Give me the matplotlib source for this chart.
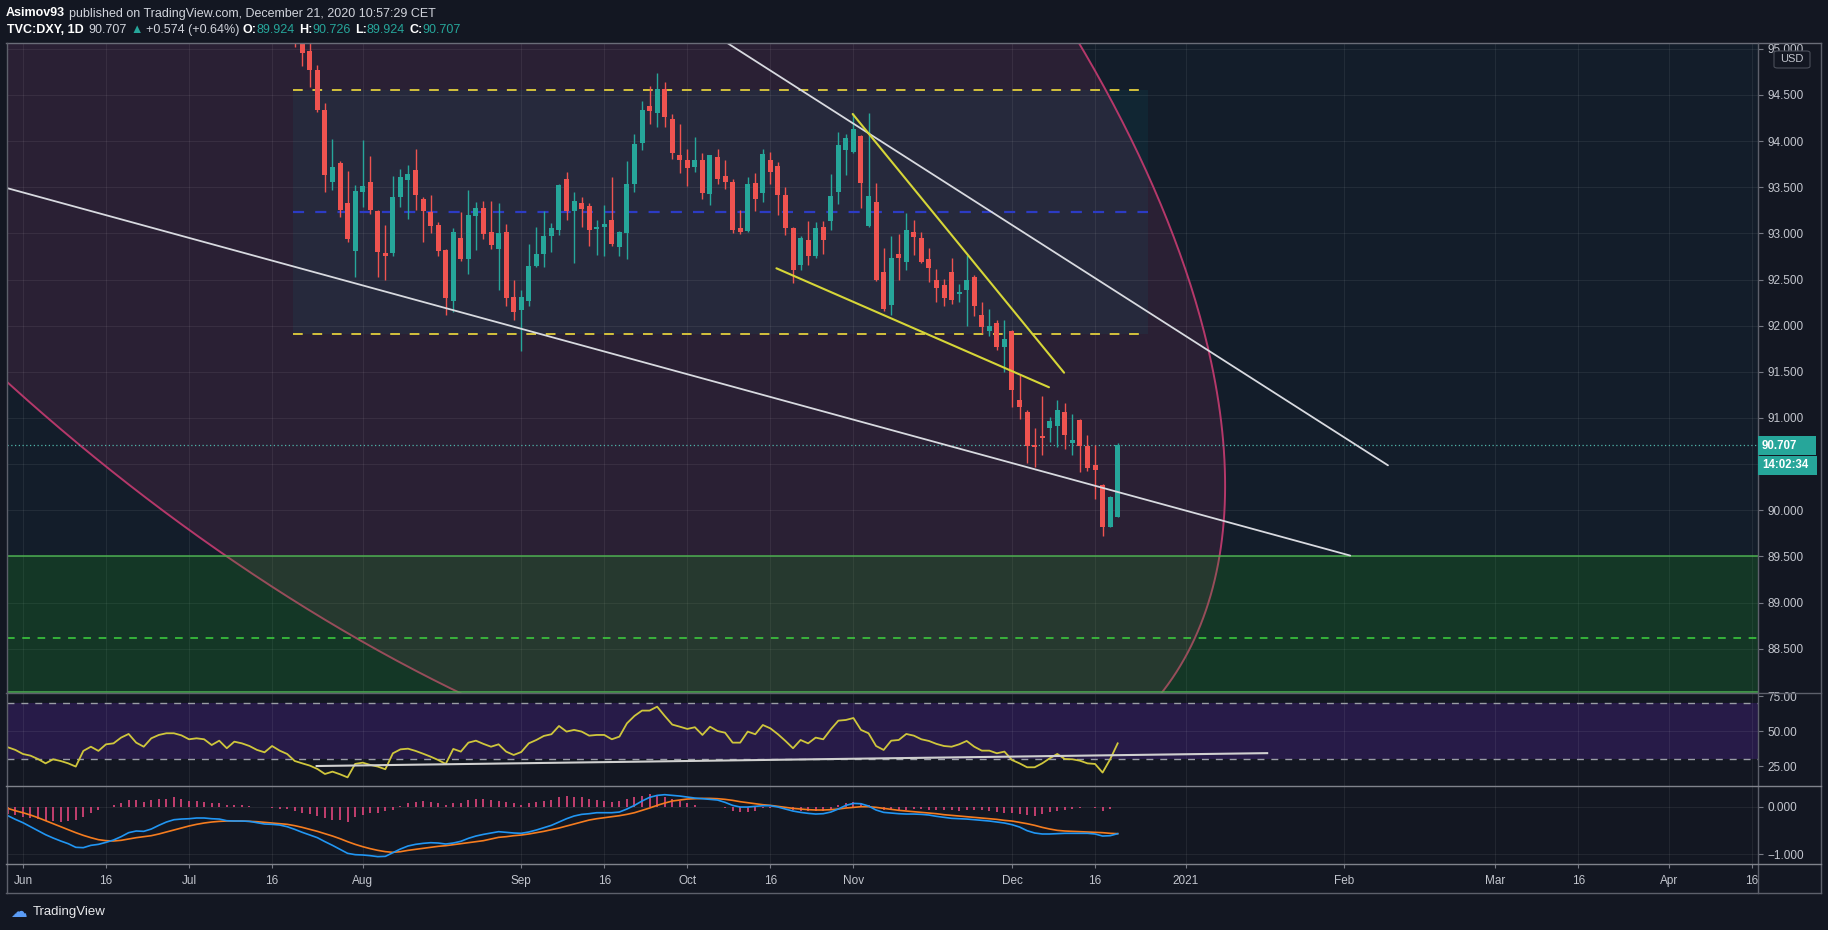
import numpy as np
import pandas as pd
import matplotlib
matplotlib.use("Agg")
import matplotlib.pyplot as plt
from matplotlib.patches import Polygon, Rectangle, FancyBboxPatch
from matplotlib.lines import Line2D

plt.rcParams['font.family'] = ['Liberation Sans', 'DejaVu Sans']

# ---------------- data ----------------
candle_first, candle_last = "2020-07-21", "2020-12-21"
opens = [95.85, 95.10, 94.98, 94.77, 94.34, 93.56, 93.76, 93.33, 92.81, 93.45,
         93.56, 93.24, 92.79, 92.79, 93.39, 93.58, 93.69, 93.37, 93.23, 93.09,
         92.82, 92.27, 92.95, 92.72, 93.19, 93.28, 93.02, 92.83, 93.02, 92.31,
         92.17, 92.27, 92.65, 92.78, 92.97, 93.04, 93.59, 93.24, 93.33, 93.30,
         93.05, 93.07, 93.15, 92.85, 93.00, 93.54, 93.98, 94.38, 94.31, 94.57,
         94.24, 93.85, 93.80, 93.72, 93.80, 93.43, 93.83, 93.62, 93.56, 93.06,
         93.03, 93.55, 93.44, 93.80, 93.73, 93.42, 93.06, 92.66, 92.93, 92.76,
         93.07, 93.13, 93.45, 93.90, 93.88, 94.06, 93.08, 93.34, 92.58, 92.22,
         92.78, 92.69, 93.02, 92.95, 92.72, 92.50, 92.44, 92.58, 92.34, 92.39,
         92.53, 92.12, 91.94, 92.03, 91.77, 91.94, 91.19, 91.06, 90.70, 90.81,
         90.89, 90.91, 91.06, 90.73, 90.98, 90.70, 90.49, 90.27, 89.82, 89.924]
highs = [95.95, 95.18, 95.06, 94.83, 94.41, 94.02, 93.79, 93.68, 93.53, 94.01,
         93.84, 93.25, 93.09, 93.62, 93.70, 93.74, 93.91, 93.39, 93.42, 93.12,
         92.83, 93.06, 93.23, 93.47, 93.34, 93.35, 93.35, 93.33, 93.10, 92.49,
         92.39, 92.88, 93.07, 93.24, 93.11, 93.54, 93.67, 93.45, 93.40, 93.33,
         93.15, 93.31, 93.61, 93.03, 93.78, 94.08, 94.43, 94.60, 94.74, 94.64,
         94.29, 94.19, 93.91, 94.04, 93.87, 93.85, 93.91, 93.80, 93.59, 93.25,
         93.61, 93.66, 93.91, 93.88, 93.77, 93.50, 93.07, 92.97, 93.13, 93.12,
         93.14, 93.64, 94.10, 94.08, 94.30, 94.07, 94.31, 93.55, 92.84, 92.97,
         92.99, 93.22, 93.15, 93.01, 92.84, 92.61, 92.51, 92.73, 92.45, 92.77,
         92.55, 92.26, 92.18, 92.06, 92.06, 91.95, 91.47, 91.09, 90.89, 91.24,
         91.01, 91.20, 91.16, 91.04, 90.99, 90.82, 90.71, 90.29, 90.15, 90.726]
lows = [95.02, 94.81, 94.59, 94.32, 93.45, 93.47, 93.18, 92.91, 92.53, 93.29,
        93.21, 92.53, 92.50, 92.76, 93.29, 93.16, 93.25, 92.91, 93.00, 92.76,
        92.12, 92.15, 92.70, 92.56, 92.82, 92.94, 92.83, 92.39, 92.21, 92.06,
        91.73, 92.21, 92.64, 92.64, 92.80, 92.98, 93.15, 92.68, 93.07, 92.86,
        92.77, 92.76, 92.86, 92.76, 92.72, 93.45, 93.90, 94.19, 94.15, 94.15,
        93.81, 93.66, 93.51, 93.67, 93.37, 93.31, 93.54, 93.48, 93.00, 92.99,
        93.02, 93.24, 93.34, 93.54, 93.20, 92.98, 92.46, 92.60, 92.66, 92.73,
        92.78, 93.04, 93.32, 93.63, 93.87, 93.28, 93.07, 92.48, 92.16, 92.12,
        92.50, 92.60, 92.77, 92.68, 92.47, 92.26, 92.21, 92.24, 92.26, 92.00,
        92.11, 91.92, 91.89, 91.74, 91.50, 91.12, 90.99, 90.51, 90.47, 90.60,
        90.74, 90.69, 90.66, 90.60, 90.41, 90.43, 90.12, 89.72, 89.82, 89.924]
closes = [95.10, 94.95, 94.77, 94.34, 93.63, 93.72, 93.25, 92.94, 93.46, 93.51,
          93.25, 92.80, 92.76, 93.40, 93.61, 93.64, 93.42, 93.24, 93.08, 92.81,
          92.30, 93.01, 92.72, 93.20, 93.28, 92.99, 92.87, 93.00, 92.30, 92.15,
          92.31, 92.65, 92.78, 92.97, 93.06, 93.53, 93.24, 93.35, 93.27, 93.04,
          93.07, 93.10, 92.89, 93.01, 93.54, 93.97, 94.34, 94.33, 94.57, 94.26,
          93.87, 93.80, 93.71, 93.80, 93.44, 93.85, 93.59, 93.56, 93.04, 93.02,
          93.54, 93.37, 93.86, 93.67, 93.42, 93.06, 92.60, 92.95, 92.76, 93.06,
          92.93, 93.41, 93.96, 94.03, 94.13, 93.55, 93.41, 92.50, 92.18, 92.73,
          92.73, 93.04, 92.96, 92.69, 92.62, 92.41, 92.30, 92.28, 92.36, 92.50,
          92.21, 91.99, 92.00, 91.77, 91.86, 91.30, 91.12, 90.70, 90.69, 90.78,
          90.97, 91.09, 90.82, 90.76, 90.70, 90.46, 90.44, 89.82, 90.14, 90.707]

ind_first, ind_last = "2020-05-28", "2020-12-21"
rsi = [38.6, 36.7, 33.8, 32.6, 30.2, 27.1, 30.0, 28.8, 27.1, 24.8,
       36.0, 39.0, 36.0, 40.7, 41.4, 45.5, 48.1, 41.9, 39.0, 45.0,
       47.4, 48.6, 48.6, 47.1, 44.3, 45.0, 44.3, 40.2, 43.3, 37.9,
       42.6, 41.4, 39.5, 36.7, 35.0, 39.5, 36.2, 33.8, 28.8, 27.1,
       25.5, 23.1, 19.5, 21.2, 19.3, 17.1, 26.7, 27.6, 26.0, 24.8,
       22.9, 34.3, 37.1, 37.6, 36.0, 34.0, 31.9, 29.5, 26.7, 37.4,
       35.5, 41.9, 43.3, 41.0, 39.0, 40.7, 35.5, 33.1, 35.2, 41.4,
       43.8, 46.7, 47.9, 53.8, 49.8, 51.0, 49.8, 46.9, 47.4, 47.4,
       44.3, 46.2, 55.7, 61.0, 64.8, 64.8, 67.6, 61.0, 54.8, 53.3,
       51.7, 52.9, 47.4, 53.3, 50.2, 49.0, 41.9, 41.9, 49.8, 47.9,
       54.5, 52.1, 47.9, 43.1, 37.9, 43.8, 41.4, 45.5, 44.3, 51.4,
       57.6, 58.1, 59.5, 51.0, 48.6, 39.5, 36.7, 43.3, 43.8, 48.1,
       46.9, 44.3, 43.1, 41.0, 39.5, 39.0, 40.7, 43.1, 39.0, 36.2,
       36.2, 34.3, 35.5, 29.5, 27.1, 24.3, 24.3, 27.1, 30.7, 33.8,
       30.2, 30.0, 29.0, 27.1, 26.7, 20.5, 30.0, 41.4]
macd_line = [-0.190, -0.268, -0.338, -0.423, -0.507, -0.592, -0.662, -0.725, -0.782, -0.859,
             -0.866, -0.817, -0.796, -0.754, -0.704, -0.634, -0.549, -0.514, -0.521, -0.472,
             -0.394, -0.324, -0.275, -0.261, -0.254, -0.239, -0.239, -0.254, -0.261, -0.296,
             -0.303, -0.303, -0.310, -0.338, -0.366, -0.373, -0.387, -0.423, -0.479, -0.542,
             -0.599, -0.655, -0.739, -0.817, -0.901, -0.986, -1.014, -1.021, -1.035, -1.056,
             -1.050, -0.972, -0.894, -0.831, -0.796, -0.775, -0.761, -0.768, -0.789, -0.768,
             -0.732, -0.669, -0.620, -0.585, -0.556, -0.528, -0.542, -0.556, -0.563, -0.535,
             -0.493, -0.444, -0.394, -0.324, -0.254, -0.197, -0.162, -0.148, -0.127, -0.127,
             -0.127, -0.113, -0.049, 0.028, 0.120, 0.197, 0.239, 0.254, 0.239, 0.225,
             0.204, 0.183, 0.169, 0.155, 0.141, 0.092, 0.028, -0.007, -0.007, 0.007,
             0.021, 0.021, -0.007, -0.049, -0.092, -0.120, -0.141, -0.155, -0.148, -0.113,
             -0.049, 0.028, 0.070, 0.063, 0.014, -0.070, -0.120, -0.134, -0.148, -0.155,
             -0.155, -0.162, -0.176, -0.204, -0.225, -0.246, -0.254, -0.261, -0.275, -0.289,
             -0.303, -0.324, -0.345, -0.380, -0.430, -0.507, -0.556, -0.577, -0.577, -0.570,
             -0.563, -0.563, -0.563, -0.563, -0.577, -0.620, -0.613, -0.570]
signal_line = [-0.035, -0.085, -0.127, -0.176, -0.232, -0.296, -0.359, -0.423, -0.486, -0.549,
               -0.606, -0.655, -0.697, -0.718, -0.725, -0.711, -0.683, -0.655, -0.634, -0.613,
               -0.577, -0.535, -0.493, -0.451, -0.408, -0.373, -0.345, -0.324, -0.310, -0.303,
               -0.303, -0.303, -0.310, -0.317, -0.331, -0.345, -0.359, -0.373, -0.401, -0.437,
               -0.479, -0.521, -0.570, -0.620, -0.676, -0.739, -0.796, -0.845, -0.887, -0.923,
               -0.950, -0.965, -0.951, -0.923, -0.901, -0.880, -0.859, -0.838, -0.824, -0.803,
               -0.782, -0.761, -0.739, -0.718, -0.683, -0.648, -0.634, -0.613, -0.599, -0.577,
               -0.549, -0.521, -0.486, -0.451, -0.408, -0.366, -0.324, -0.282, -0.254, -0.232,
               -0.211, -0.190, -0.162, -0.127, -0.077, -0.028, 0.028, 0.077, 0.120, 0.141,
               0.162, 0.169, 0.176, 0.176, 0.169, 0.155, 0.134, 0.106, 0.085, 0.063,
               0.042, 0.028, 0.007, -0.014, -0.035, -0.049, -0.063, -0.070, -0.070, -0.063,
               -0.049, -0.028, -0.014, 0.000, 0.000, -0.014, -0.035, -0.056, -0.077, -0.092,
               -0.106, -0.120, -0.134, -0.148, -0.169, -0.183, -0.197, -0.211, -0.225, -0.239,
               -0.254, -0.268, -0.289, -0.303, -0.331, -0.359, -0.394, -0.437, -0.472, -0.500,
               -0.514, -0.521, -0.528, -0.535, -0.542, -0.549, -0.563, -0.570]
macd_hist = [-0.155, -0.176, -0.211, -0.246, -0.268, -0.296, -0.310, -0.317, -0.303, -0.282,
             -0.211, -0.127, -0.070, -0.014, 0.035, 0.070, 0.141, 0.141, 0.106, 0.141,
             0.155, 0.162, 0.211, 0.155, 0.127, 0.127, 0.106, 0.085, 0.085, 0.035,
             0.035, 0.035, 0.014, -0.014, -0.014, -0.035, -0.042, -0.056, -0.085, -0.127,
             -0.155, -0.197, -0.246, -0.282, -0.282, -0.317, -0.211, -0.176, -0.141, -0.141,
             -0.090, -0.070, 0.014, 0.070, 0.106, 0.113, 0.106, 0.070, 0.035, 0.085,
             0.085, 0.141, 0.155, 0.155, 0.141, 0.127, 0.106, 0.070, 0.035, 0.070,
             0.106, 0.127, 0.141, 0.197, 0.225, 0.197, 0.211, 0.155, 0.141, 0.127,
             0.106, 0.127, 0.155, 0.197, 0.225, 0.268, 0.225, 0.197, 0.155, 0.127,
             0.070, 0.035, 0.000, 0.000, -0.014, -0.035, -0.085, -0.106, -0.106, -0.085,
             -0.030, -0.020, -0.014, -0.035, -0.070, -0.085, -0.085, -0.092, -0.085, -0.042,
             0.035, 0.070, 0.106, 0.070, 0.035, -0.014, -0.070, -0.070, -0.085, -0.070,
             -0.056, -0.056, -0.070, -0.070, -0.070, -0.070, -0.085, -0.070, -0.070, -0.070,
             -0.085, -0.106, -0.127, -0.141, -0.155, -0.176, -0.197, -0.155, -0.106, -0.085,
             -0.070, -0.056, -0.035, -0.014, -0.035, -0.085, -0.056, -0.007]

price_ticks = [88.5, 89.0, 89.5, 90.0, 90.5, 91.0, 91.5, 92.0, 92.5, 93.0, 93.5, 94.0, 94.5, 95.0]
price_hidden_ticks = [90.5]          # covered by the last-price / countdown labels
rsi_ticks = [25, 50, 75]
macd_ticks = [-1.0, 0.0]
time_tick_dates = ["2020-06-01", "2020-06-16", "2020-07-01", "2020-07-16", "2020-08-03",
                   "2020-09-01", "2020-09-16", "2020-10-01", "2020-10-16", "2020-11-02",
                   "2020-12-01", "2020-12-16", "2021-01-01", "2021-02-01", "2021-03-01",
                   "2021-03-16", "2021-04-01", "2021-04-16"]
time_tick_labels = ["Jun", "16", "Jul", "16", "Aug", "Sep", "16", "Oct", "16", "Nov",
                    "Dec", "16", "2021", "Feb", "Mar", "16", "Apr", "16"]

last_price = 90.707
countdown = "14:02:34"

# ---------------- drawings (bar position, price) ----------------
box_bars = (35.8, 149.0)
box_top, box_bottom, box_mid = 94.554, 91.907, 93.23
zone_top, zone_mid, zone_bottom = 89.5, 88.615, 88.03
ell_cx, ell_cy, ell_hw, ell_hh, ell_shear = 45.17, 95.561, 90.94, 8.772, -7.848
trend_upper = ((85.0, 95.497), (180.8, 90.487))
trend_lower = ((-5.0, 93.556), (175.8, 89.509))
wedge_upper = ((109.9, 94.294), (137.9, 91.491))
wedge_lower = ((99.8, 92.622), (135.9, 91.333))
rsi_trend = ((38.9, 25.2), (164.8, 34.4))

# ---------------- helpers ----------------
W, H = 1828, 930
ORIGIN = np.datetime64("2020-06-01")


def bar_pos(dates):
    d = np.array(pd.to_datetime(dates).values, dtype="datetime64[D]")
    return np.busday_count(ORIGIN, d).astype(float)


def fbox(x0, y0, x1, y1):
    return [x0 / W, 1 - y1 / H, (x1 - x0) / W, (y1 - y0) / H]


BG = "#131722"
TXT = "#c3c6ce"
GRID = (1, 1, 1, 0.065)
SEP = "#5d606b"

fig = plt.figure(figsize=(W / 100, H / 100), dpi=100, facecolor=BG)

ax_p = fig.add_axes(fbox(7, 43.5, 1758, 693))
ax_r = fig.add_axes(fbox(7, 693, 1758, 786))
ax_m = fig.add_axes(fbox(7, 786, 1758, 864))

XL = (-2.11, 229.81)
tick_pos = bar_pos(time_tick_dates)
for ax in (ax_p, ax_r, ax_m):
    ax.set_xlim(*XL)
    for s in ax.spines.values():
        s.set_visible(False)
    for xp in tick_pos:
        ax.axvline(xp, color=GRID, lw=0.8, zorder=1)
    ax.yaxis.tick_right()
    ax.tick_params(axis='y', direction='out', length=3.5, width=0.8, color="#787b86",
                   labelcolor=TXT, labelsize=8.5, pad=3)

# ---------------- price pane ----------------
ax_p.set_facecolor("#131d2a")
ax_p.set_ylim(88.02, 95.058)

t = np.linspace(0, 2 * np.pi, 900)
ey = ell_cy + ell_hh * np.sin(t)
ex = ell_cx + ell_shear * (ey - ell_cy) + ell_hw * np.cos(t)
ax_p.add_patch(Polygon(np.column_stack([ex, ey]), closed=True, facecolor="#2a2034",
                       edgecolor="none", zorder=0.5))
ax_p.add_patch(Rectangle((box_bars[0], box_bottom), box_bars[1] - box_bars[0], box_top - box_bottom,
                         facecolor=(0, 0.55, 0.59, 0.085), edgecolor="none", zorder=0.8))
for pt in price_ticks:
    ax_p.axhline(pt, color=GRID, lw=0.8, zorder=1)
ax_p.plot(ex, ey, color="#b5386a", lw=1.4, zorder=1.2)
ax_p.add_patch(Rectangle((XL[0] - 5, zone_bottom), XL[1] - XL[0] + 10, zone_top - zone_bottom,
                         facecolor=(0.10, 0.66, 0.10, 0.19), edgecolor="none", zorder=1.3))
ax_p.axhline(zone_top, color="#4caf50", lw=1.1, zorder=1.4)
ax_p.axhline(zone_bottom, color="#4caf50", lw=1.1, zorder=1.4)
ax_p.axhline(zone_mid, color="#3fd43f", lw=1.1, ls=(0, (5, 5)), zorder=1.4)

ax_p.hlines([box_top, box_bottom], box_bars[0], box_bars[1], colors="#d4c23c", lw=1.4,
            linestyles=[(0, (5, 5))], zorder=2)
ax_p.hlines([box_mid], box_bars[0], box_bars[1], colors="#2c3bc4", lw=1.6,
            linestyles=[(0, (5, 5))], zorder=2)
ax_p.axhline(last_price, color="#4fb3a9", lw=0.9, ls=(0, (1, 2)), zorder=2)

cx = bar_pos(pd.bdate_range(candle_first, candle_last))
o, h, l, c = (np.array(v) for v in (opens, highs, lows, closes))
cols = np.where(c >= o, "#26a69a", "#ef5350")
ax_p.vlines(cx, l, h, colors=cols, lw=1.0, zorder=4)
ax_p.bar(cx, np.maximum(np.abs(c - o), 0.012), bottom=np.minimum(o, c), width=0.66,
         color=cols, linewidth=0, zorder=4.1)

for (x0, y0), (x1, y1) in (trend_upper, trend_lower):
    ax_p.plot([x0, x1], [y0, y1], color="#d8dae0", lw=1.3, zorder=5, solid_capstyle='round')
for (x0, y0), (x1, y1) in (wedge_upper, wedge_lower):
    ax_p.plot([x0, x1], [y0, y1], color="#d6d638", lw=1.5, zorder=5, solid_capstyle='round')

ax_p.set_yticks(price_ticks)
ax_p.set_yticklabels(["" if v in price_hidden_ticks else f"{v:.3f}" for v in price_ticks])
ax_p.set_xticks([])

# ---------------- RSI pane ----------------
ix = bar_pos(pd.bdate_range(ind_first, ind_last))
ax_r.set_facecolor(BG)
ax_r.set_ylim(10.93, 77.36)
ax_r.axhspan(30, 70, color="#271b48", zorder=0.5, lw=0)
ax_r.axhline(50, color=GRID, lw=0.8, zorder=1)
ax_r.axhline(70, color="#9a9da6", lw=1.0, ls=(0, (5, 5)), zorder=1.5)
ax_r.axhline(30, color="#9a9da6", lw=1.0, ls=(0, (5, 5)), zorder=1.5)
ax_r.plot(ix, rsi, color="#cfc63c", lw=1.3, zorder=3)
(rx0, ry0), (rx1, ry1) = rsi_trend
ax_r.plot([rx0, rx1], [ry0, ry1], color="#d0d0d0", lw=1.5, zorder=4)
ax_r.set_yticks(rsi_ticks)
ax_r.set_yticklabels([f"{v:.2f}" for v in rsi_ticks])
ax_r.set_xticks([])

# ---------------- MACD pane ----------------
ax_m.set_facecolor(BG)
ax_m.set_ylim(-1.2114, 0.4376)
for v in macd_ticks:
    ax_m.axhline(v, color=GRID, lw=0.8, zorder=1)
ax_m.vlines(ix, 0, macd_hist, colors="#e0457b", lw=1.2, zorder=2)
ax_m.plot(ix, signal_line, color="#f57c1f", lw=1.2, zorder=3)
ax_m.plot(ix, macd_line, color="#2196f3", lw=1.2, zorder=3)
ax_m.set_yticks(macd_ticks)
ax_m.set_yticklabels([f"{v:.3f}".replace("-", "\u2212") for v in macd_ticks])
ax_m.set_xticks(tick_pos)
ax_m.set_xticklabels(time_tick_labels)
ax_m.tick_params(axis='x', direction='out', length=3, width=0.8, color="#787b86",
                 labelcolor=TXT, labelsize=8.5, pad=5)

# ---------------- frame ----------------
def fline(x0, y0, x1, y1, color=SEP, lw=1.0):
    fig.add_artist(Line2D([x0 / W, x1 / W], [1 - y0 / H, 1 - y1 / H], transform=fig.transFigure,
                          color=color, lw=lw, zorder=5))

fline(6, 43.5, 1821, 43.5, "#6a6d78")
fline(6.5, 43.5, 6.5, 893)
fline(1821, 43.5, 1821, 893)
fline(1758, 43.5, 1758, 893)
fline(6, 693, 1821, 693)
fline(6, 786, 1821, 786, "#80838c")
fline(6, 864, 1821, 864, "#80838c")
fline(6, 893, 1821, 893)

# price labels on the axis
def flabel(x0, y0, x1, y1, text):
    fig.add_artist(Rectangle((x0 / W, 1 - y1 / H), (x1 - x0) / W, (y1 - y0) / H,
                             transform=fig.transFigure, facecolor="#26a69a", edgecolor="none",
                             zorder=8))
    fig.text((x0 + 4) / W, 1 - (y0 + y1) / 2 / H, text, color="white", fontsize=8.3,
             fontweight="bold", va="center", ha="left", zorder=9)

flabel(1758, 436, 1816, 455, f"{last_price:.3f}")
flabel(1758, 456, 1817, 475, countdown)

fig.add_artist(FancyBboxPatch((1774 / W, 1 - 68 / H), 36 / W, 17 / H,
                              boxstyle="round,pad=0,rounding_size=0.002",
                              transform=fig.transFigure, facecolor=BG, edgecolor="#4a4e59",
                              lw=0.8, zorder=8))
fig.text(1792 / W, 1 - 59.5 / H, "USD", color=TXT, fontsize=8, va="center", ha="center", zorder=9)

# ---------------- header ----------------
renderer = fig.canvas.get_renderer()


def pieces_line(pieces, x, y, size):
    for txt, color, weight, gap in pieces:
        tt = fig.text(x / W, 1 - y / H, txt, color=color, fontsize=size, fontweight=weight,
                      va="center", ha="left")
        x += tt.get_window_extent(renderer=renderer).width + gap
    return x


LIGHT = "#d1d4dc"
TEAL = "#26a69a"
HS = 9.0
pieces_line([("Asimov93", "white", "bold", 4),
             ("published on TradingView.com, December 21, 2020 10:57:29 CET", LIGHT, "normal", 0)],
            6, 13.5, HS)
pieces_line([("TVC:DXY, 1D", "white", "bold", 5),
             ("90.707", LIGHT, "normal", 3),
             ("\u25b2", TEAL, "normal", 3),
             ("+0.574 (+0.64%)", LIGHT, "normal", 4),
             ("O:", "white", "bold", 0), ("89.924", TEAL, "normal", 4),
             ("H:", "white", "bold", 0), ("90.726", TEAL, "normal", 4),
             ("L:", "white", "bold", 0), ("89.924", TEAL, "normal", 4),
             ("C:", "white", "bold", 0), ("90.707", TEAL, "normal", 0)],
            7, 30, HS)

# ---------------- footer logo ----------------
fig.text(10 / W, 1 - 912 / H, "\u2601", color="#5b9cf6", fontsize=12, va="center", ha="left",
         family=["DejaVu Sans"])
fig.text(33 / W, 1 - 912 / H, "TradingView", color="#e8e9ec", fontsize=9.5, va="center", ha="left")

fig.savefig("out.png", dpi=100, facecolor=BG)
